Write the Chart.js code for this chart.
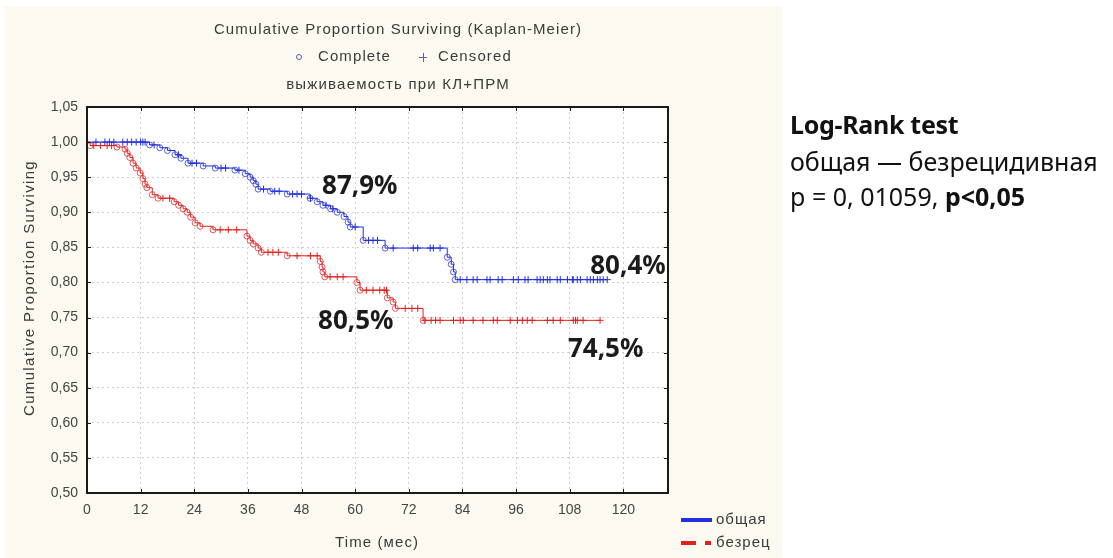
<!DOCTYPE html>
<html>
<head>
<meta charset="utf-8">
<script src="https://cdn.jsdelivr.net/npm/chart.js@4.4.1/dist/chart.umd.min.js"></script>
<style>
  html, body { margin: 0; padding: 0; background: #fff; }
  #wrap { position: relative; width: 1113px; height: 558px; overflow: hidden; }
  #kmChart { position: absolute; left: 0; top: 0; }
  .side { position: absolute; left: 790px; font-family: 'Noto Sans', sans-serif; font-size: 25px; line-height: 34px; color: #111; white-space: nowrap; }
</style>
</head>
<body>
<div id="wrap">
  <canvas id="kmChart" width="1113" height="558"></canvas>
  <div class="side" style="top:107px; letter-spacing:-0.3px"><b>Log-Rank test</b></div>
  <div class="side" style="top:144px">общая — безрецидивная</div>
  <div class="side" style="top:179px">p = 0, 01059, <b>p&lt;0,05</b></div>
</div>
<script>
// tick labels
var xTicks = [0, 12, 24, 36, 48, 60, 72, 84, 96, 108, 120];
var yTicks = [0.50, 0.55, 0.60, 0.65, 0.70, 0.75, 0.80, 0.85, 0.90, 0.95, 1.00, 1.05];

// общая: step points (months, proportion surviving)
var totalT = [0, 14, 16.3, 18, 19.7, 21, 22.6, 26, 28.7, 33.1, 35.4, 36.5, 37.2, 37.8, 38.3, 41, 44.8, 49.9, 51.5, 52.8, 54.5, 56, 57.5, 58.4, 58.9, 61.8, 66.7, 80.6, 81.5, 82, 82.4, 116.4];
var totalS = [1, 0.996, 0.992, 0.988, 0.982, 0.977, 0.97, 0.966, 0.963, 0.96, 0.955, 0.95, 0.945, 0.94, 0.933, 0.93, 0.926, 0.92, 0.915, 0.91, 0.905, 0.9, 0.894, 0.886, 0.879, 0.86, 0.849, 0.836, 0.826, 0.815, 0.804, 0.804];
var totalCens = [2, 4, 5, 6, 8, 9, 10, 11, 12, 12.5, 13, 15, 20.5, 23.5, 24.5, 30, 31, 34, 39.5, 42, 43, 46, 47, 48, 50, 53.5, 55, 60, 63, 64, 65, 68.5, 73, 74, 76.8, 77.5, 79,
  83.5, 85, 86.4, 87.3, 89.5, 90.2, 92, 92.9, 95.4, 96.5, 98, 98.7, 100.7, 101.4, 102.1, 103, 103.6, 105.2, 105.9, 107.5, 108.6, 108.8, 109.7, 110.4, 111.9, 112.6, 113.3, 114.2, 114.8, 115.5, 116.4];

// безрец
var rfT = [0, 0.7, 6.7, 8.5, 9, 9.6, 10.3, 11, 11.9, 12.5, 13, 13.4, 14.6, 15.9, 19.5, 20.5, 21.5, 22.4, 23.2, 24.2, 25.3, 28.2, 35.8, 36.5, 37.2, 38.3, 39, 44.8, 52.2, 52.6, 52.8, 53.2, 60.4, 61.1, 67.2, 68.5, 69, 75.2, 114.8];
var rfS = [1, 0.995, 0.993, 0.99, 0.984, 0.978, 0.97, 0.963, 0.956, 0.948, 0.94, 0.935, 0.925, 0.92, 0.915, 0.91, 0.905, 0.9, 0.893, 0.885, 0.88, 0.875, 0.866, 0.86, 0.855, 0.849, 0.843, 0.838, 0.83, 0.822, 0.815, 0.808, 0.8, 0.789, 0.778, 0.772, 0.763, 0.746, 0.746];
var rfCens = [1.5, 3, 4.5, 5.5, 17, 18.5, 29.8, 31.6, 33.5, 40.5, 41.6, 42.8, 47, 50, 51.5, 54.4, 56, 57.3, 62.5, 64, 65.5, 66.5, 67, 71.2, 72.7, 74, 75.6,
  77, 78, 79, 82, 83.5, 84.2, 86.4, 88.6, 90.9, 91.8, 94.7, 96.3, 97.4, 98.5, 99.6, 103, 104.3, 105.9, 108.8, 109.3, 109.7, 111, 114.8];

var BLUE = '#1f2ee0', RED = '#e3201c';
var narrow = "'Liberation Sans Narrow', 'Liberation Sans', Arial, sans-serif";

function stepPoints(ts, ss) {
  return ts.map(function (t, i) { return { x: t, y: ss[i] }; });
}
// level of the step curve at time t (for placing censored marks)
function levelAt(ts, ss, t) {
  var v = ss[0];
  for (var i = 0; i < ts.length; i++) { if (ts[i] <= t) v = ss[i]; }
  return v;
}
function censPoints(cens, ts, ss) {
  return cens.map(function (t) { return { x: t, y: levelAt(ts, ss, t) }; });
}
function eventRadius(n) {
  return function (c) { return (c.dataIndex === 0 || c.dataIndex === n - 1) ? 0 : 3; };
}

var frame = {
  id: 'frame',
  beforeDraw: function (chart) {
    var ctx = chart.ctx, a = chart.chartArea;
    ctx.save();
    ctx.fillStyle = '#ffffff';
    ctx.fillRect(0, 0, chart.width, chart.height);
    ctx.fillStyle = '#fcfaf0';
    ctx.fillRect(5, 6, 777, 552);
    ctx.fillStyle = '#ffffff';
    ctx.fillRect(a.left, a.top, a.right - a.left, a.bottom - a.top);
    ctx.restore();
  },
  afterDraw: function (chart) {
    var ctx = chart.ctx, a = chart.chartArea;
    var xs = chart.scales.x, ys = chart.scales.y;
    ctx.save();
    // frame and inner tick marks
    ctx.strokeStyle = '#1a1a1a';
    ctx.lineWidth = 2;
    ctx.strokeRect(a.left, a.top, a.right - a.left, a.bottom - a.top);
    ctx.lineWidth = 1;
    ctx.beginPath();
    xTicks.forEach(function (v) {
      var px = Math.round(xs.getPixelForValue(v)) + 0.5;
      ctx.moveTo(px, a.bottom); ctx.lineTo(px, a.bottom - 4);
      ctx.moveTo(px, a.top); ctx.lineTo(px, a.top + 4);
    });
    yTicks.forEach(function (v) {
      var py = Math.round(ys.getPixelForValue(v)) + 0.5;
      ctx.moveTo(a.left, py); ctx.lineTo(a.left + 4, py);
      ctx.moveTo(a.right, py); ctx.lineTo(a.right - 4, py);
    });
    ctx.stroke();

    // titles
    ctx.fillStyle = '#3a3a3a';
    ctx.textAlign = 'center';
    ctx.textBaseline = 'middle';
    ctx.font = '15px ' + narrow;
    ctx.letterSpacing = '1.1px';
    ctx.fillText('Cumulative Proportion Surviving (Kaplan-Meier)', 398, 30);
    ctx.letterSpacing = '1.2px';
    ctx.fillText('выживаемость при КЛ+ПРМ', 398, 85);
    ctx.letterSpacing = '1.1px';
    ctx.textAlign = 'left';
    ctx.fillText('Complete', 318, 57);
    ctx.fillText('Censored', 438, 57);
    ctx.fillText('Time (мес)', 335, 543);
    ctx.letterSpacing = '0px';
    ctx.strokeStyle = '#5a5ab8';
    ctx.lineWidth = 1;
    ctx.beginPath(); ctx.arc(299, 57, 2.5, 0, Math.PI * 2); ctx.stroke();
    ctx.beginPath();
    ctx.moveTo(419, 57.5); ctx.lineTo(427, 57.5);
    ctx.moveTo(423.5, 53); ctx.lineTo(423.5, 62);
    ctx.stroke();

    ctx.save();
    ctx.translate(30, 288);
    ctx.rotate(-Math.PI / 2);
    ctx.textAlign = 'center';
    ctx.font = '15px ' + narrow;
    ctx.letterSpacing = '1.35px';
    ctx.fillText('Cumulative Proportion Surviving', 0, 0);
    ctx.restore();

    // legend
    ctx.lineWidth = 4;
    ctx.strokeStyle = BLUE;
    ctx.beginPath(); ctx.moveTo(681, 520); ctx.lineTo(712, 520); ctx.stroke();
    ctx.strokeStyle = RED;
    ctx.beginPath(); ctx.moveTo(681, 543); ctx.lineTo(696, 543); ctx.moveTo(705, 543); ctx.lineTo(711, 543); ctx.stroke();
    ctx.fillStyle = '#3a3a3a';
    ctx.font = '15px ' + narrow;
    ctx.letterSpacing = '1px';
    ctx.textAlign = 'left';
    ctx.fillText('общая', 716, 520);
    ctx.fillText('безрец', 716, 543);
    ctx.letterSpacing = '0px';

    // value annotations
    ctx.fillStyle = '#1b1b1b';
    ctx.font = "bold 26px 'Noto Sans', sans-serif";
    [['87,9%', 52.6, 0.936], ['80,4%', 112.6, 0.823], ['80,5%', 51.7, 0.744], ['74,5%', 107.6, 0.704]].forEach(function (a2) {
      ctx.fillText(a2[0], xs.getPixelForValue(a2[1]), ys.getPixelForValue(a2[2]));
    });
    ctx.restore();
  }
};

var ctx = document.getElementById('kmChart').getContext('2d');
var chart = new Chart(ctx, {
  type: 'scatter',
  data: {
    datasets: [
      {
        label: 'общая',
        data: stepPoints(totalT, totalS),
        showLine: true,
        stepped: true,
        borderColor: BLUE,
        borderWidth: 1,
        pointStyle: 'circle',
        pointRadius: eventRadius(totalT.length),
        pointBorderColor: 'rgba(40,50,200,0.75)',
        pointBackgroundColor: 'rgba(255,255,255,0)',
        pointBorderWidth: 1
      },
      {
        label: 'общая censored',
        data: censPoints(totalCens, totalT, totalS),
        pointStyle: 'cross',
        pointRadius: 3.5,
        pointBorderColor: BLUE,
        pointBorderWidth: 1
      },
      {
        label: 'безрец',
        data: stepPoints(rfT, rfS),
        showLine: true,
        stepped: true,
        borderColor: RED,
        borderWidth: 1,
        pointStyle: 'circle',
        pointRadius: eventRadius(rfT.length),
        pointBorderColor: 'rgba(215,40,40,0.75)',
        pointBackgroundColor: 'rgba(255,255,255,0)',
        pointBorderWidth: 1
      },
      {
        label: 'безрец censored',
        data: censPoints(rfCens, rfT, rfS),
        pointStyle: 'cross',
        pointRadius: 3.5,
        pointBorderColor: RED,
        pointBorderWidth: 1
      }
    ]
  },
  options: {
    responsive: false,
    animation: false,
    layout: { padding: { left: 0, right: 445, top: 107, bottom: 0 } },
    plugins: { legend: { display: false }, tooltip: { enabled: false } },
    scales: {
      x: {
        type: 'linear',
        min: 0,
        max: 130,
        afterBuildTicks: function (axis) { axis.ticks = xTicks.map(function (v) { return { value: v }; }); },
        afterFit: function (axis) { axis.height = 65; },
        ticks: { color: '#444', font: { family: 'Liberation Sans', size: 14 }, padding: 9, maxRotation: 0 },
        grid: { color: '#cfcfcf', drawTicks: false },
        border: { display: false, dash: [2, 3] }
      },
      y: {
        min: 0.5,
        max: 1.05,
        afterBuildTicks: function (axis) { axis.ticks = yTicks.map(function (v) { return { value: v }; }); },
        afterFit: function (axis) { axis.width = 87; },
        ticks: {
          color: '#444',
          font: { family: 'Liberation Sans', size: 14 },
          padding: 9,
          callback: function (v) { return v.toFixed(2).replace('.', ','); }
        },
        grid: { color: '#cfcfcf', drawTicks: false },
        border: { display: false, dash: [2, 3] }
      }
    }
  },
  plugins: [frame]
});
</script>
</body>
</html>
